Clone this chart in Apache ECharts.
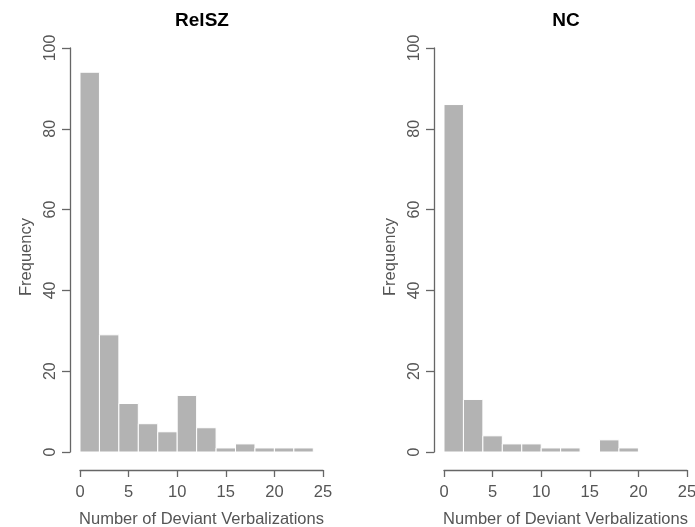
<!DOCTYPE html>
<html>
<head>
<meta charset="utf-8">
<title>Deviant Verbalizations</title>
<script src="https://cdn.jsdelivr.net/npm/echarts@6/dist/echarts.min.js"></script>
<style>
  html, body { margin: 0; padding: 0; background: #fff; }
  #chart { width: 695px; height: 527px; }
</style>
</head>
<body>
<div id="chart"></div>
<script>
// histogram bins (width 2) and counts per group
var binEdges = [0, 2, 4, 6, 8, 10, 12, 14, 16, 18, 20, 22, 24];
var relszCounts = [94, 29, 12, 7, 5, 14, 6, 1, 2, 1, 1, 1];
var ncCounts = [86, 13, 4, 2, 2, 1, 1, 0, 3, 1];
var panelTitles = ['RelSZ', 'NC'];
var xName = 'Number of Deviant Verbalizations';
var yName = 'Frequency';

var font = 'Liberation Sans, Arial, sans-serif';
var axisColor = '#666';
var textColor = '#555';

// turn counts into [x0, x1, count] rows
function toBins(counts) {
  var rows = [];
  for (var i = 0; i < counts.length; i++) {
    rows.push([binEdges[i], binEdges[i + 1], counts[i]]);
  }
  return rows;
}

function renderBin(params, api) {
  var count = api.value(2);
  if (!count) return null;
  var p0 = api.coord([api.value(0), count]);
  var p1 = api.coord([api.value(1), 0]);
  return {
    type: 'rect',
    shape: { x: p0[0], y: p0[1], width: p1[0] - p0[0], height: p1[1] - p0[1] },
    style: { fill: '#b3b3b3', stroke: '#fff', lineWidth: 1 }
  };
}

function xAxisFor(idx) {
  return {
    gridIndex: idx, type: 'value', min: 0, max: 25, interval: 5,
    offset: 18,
    name: xName, nameLocation: 'middle', nameGap: 41,
    nameTextStyle: { color: textColor, fontSize: 16.5, fontFamily: font },
    axisLine: { onZero: false, lineStyle: { color: axisColor, width: 1.3 } },
    axisTick: { length: 7, lineStyle: { color: axisColor, width: 1.3 } },
    axisLabel: { color: textColor, fontSize: 16.5, fontFamily: font, margin: 14 },
    splitLine: { show: false }
  };
}

function yAxisFor(idx) {
  return {
    gridIndex: idx, type: 'value', min: 0, max: 100, interval: 20,
    offset: 10,
    name: yName, nameLocation: 'middle', nameGap: 35,
    nameTextStyle: { color: textColor, fontSize: 16.5, fontFamily: font, padding: [0, 14, 0, 0] },
    axisLine: { show: true, onZero: false, lineStyle: { color: axisColor, width: 1.3 } },
    axisTick: { show: true, length: 8, lineStyle: { color: axisColor, width: 1.3 } },
    axisLabel: { color: textColor, fontSize: 16, fontFamily: font, rotate: 90, margin: 11 },
    splitLine: { show: false }
  };
}

var chart = echarts.init(document.getElementById('chart'));
chart.setOption({
  backgroundColor: '#fff',
  animation: false,
  title: [
    { text: panelTitles[0], left: 197, top: 6, textAlign: 'center',
      textStyle: { fontSize: 19, fontWeight: 'bold', color: '#000', fontFamily: font } },
    { text: panelTitles[1], left: 561, top: 6, textAlign: 'center',
      textStyle: { fontSize: 19, fontWeight: 'bold', color: '#000', fontFamily: font } }
  ],
  grid: [
    { left: 80, top: 48, width: 243, height: 404, outerBoundsMode: 'none' },
    { left: 444, top: 48, width: 243, height: 404, outerBoundsMode: 'none' }
  ],
  xAxis: [xAxisFor(0), xAxisFor(1)],
  yAxis: [yAxisFor(0), yAxisFor(1)],
  series: [
    { type: 'custom', xAxisIndex: 0, yAxisIndex: 0, data: toBins(relszCounts),
      encode: { x: [0, 1], y: 2 }, renderItem: renderBin },
    { type: 'custom', xAxisIndex: 1, yAxisIndex: 1, data: toBins(ncCounts),
      encode: { x: [0, 1], y: 2 }, renderItem: renderBin }
  ]
});
</script>
</body>
</html>
